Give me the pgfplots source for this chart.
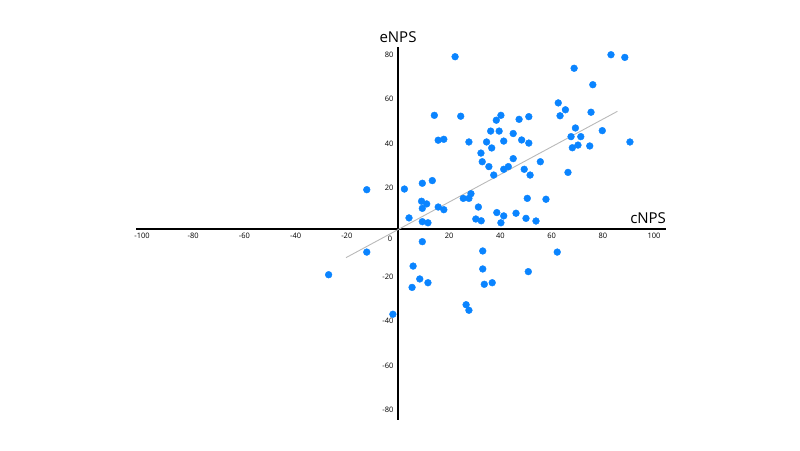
\documentclass[border=0pt]{standalone}
\usepackage{fontspec}
\setmainfont{Open Sans}
\usepackage{pgfplots}
\pgfplotsset{compat=1.18}
\definecolor{ptblue}{RGB}{10,132,255}
\definecolor{reggray}{RGB}{185,185,185}
\begin{document}
\begin{tikzpicture}
\begin{axis}[
  x=2.56bp, y=2.22bp,
  xmin=-102.3, xmax=104.7, ymin=-86, ymax=82,
  axis lines=center,
  axis line style={-, line width=2.2bp, black},
  major tick length=0pt,
  clip=false,
  /pgf/number format/assume math mode=true,
  xtick={-100,-80,-60,-40,-20,20,40,60,80,100},
  ytick={-80,-60,-40,-20,20,40,60,80},
  tick label style={font=\fontsize{7.5bp}{9bp}\selectfont},
  xticklabel style={yshift=-1bp},
  yticklabel style={yshift=-3.5bp, xshift=-1bp},
  xlabel={cNPS}, ylabel={eNPS},
  every axis x label/.style={at={(axis cs:97.7,5)}, anchor=center, font=\fontsize{15bp}{18bp}\selectfont},
  every axis y label/.style={at={(axis cs:0,86.5)}, anchor=center, font=\fontsize{15bp}{18bp}\selectfont},
]
\path (axis cs:-155.47,-99.55) rectangle (axis cs:157.03,103.15);
\node[font=\fontsize{7.5bp}{9bp}\selectfont, anchor=center] at (axis cs:-3.1,-4.5) {0};
\addplot[reggray, line width=0.9bp] coordinates {(-20.3,-12.9) (85.7,53.0)};
\addplot[only marks, mark=*, mark size=3.4bp, color=ptblue] coordinates {
(22.3,77.6) (83.2,78.5) (88.6,77.3) (68.8,72.4) (76.1,65.0) (62.6,56.8) (65.4,53.7) (63.3,51.0)
(75.4,52.6) (14.2,51.2) (24.5,50.8) (40.2,51.2) (38.4,49.0) (47.3,49.4) (51.1,50.6) (36.2,44.1)
(39.5,44.1) (45.0,43.0) (15.7,40.0) (17.9,40.4) (27.7,39.2) (34.6,39.2) (41.3,39.6) (48.3,40.1)
(51.1,38.7) (69.3,45.5) (67.6,41.6) (71.4,41.6) (79.8,44.3) (68.1,36.6) (70.3,37.8) (74.9,37.4)
(90.6,39.2) (32.4,34.2) (36.6,36.5) (32.9,30.3) (45.0,31.7) (55.6,30.3) (35.5,28.1) (43.1,28.1)
(41.3,26.9) (49.3,26.9) (37.4,24.3) (51.6,24.3) (66.4,25.5) (-12.2,17.7) (2.5,18.0) (9.5,20.6)
(13.4,21.8) (9.2,12.5) (11.2,11.3) (9.5,9.3) (15.7,9.9) (17.9,8.7) (25.5,13.8) (27.7,13.8)
(28.5,15.9) (31.4,9.9) (50.5,13.8) (57.8,13.4) (4.3,5.0) (9.5,3.3) (11.7,2.8) (30.4,4.5)
(32.5,3.7) (38.6,7.4) (41.3,5.9) (40.2,2.8) (46.1,7.1) (50.0,4.8) (53.9,3.6) (9.5,-5.7)
(33.1,-9.9) (62.2,-10.4) (-12.2,-10.4) (5.9,-16.7) (33.1,-18.0) (50.9,-19.2) (8.5,-22.5) (11.7,-24.2)
(5.5,-26.3) (33.7,-24.9) (36.8,-24.2) (-27.1,-20.6) (26.6,-34.1) (27.7,-36.6) (-2.0,-38.4)
};
\end{axis}
\end{tikzpicture}
\end{document}
